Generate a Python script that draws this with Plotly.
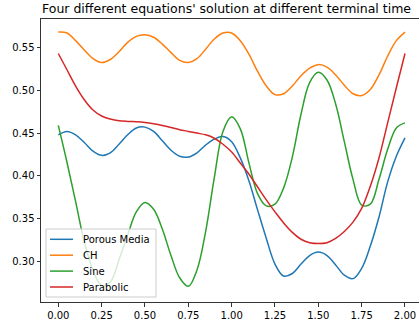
import plotly.graph_objects as go

x_vals = [0.00, 0.05, 0.10, 0.15, 0.20, 0.25, 0.30, 0.35, 0.40, 0.45,
          0.50, 0.55, 0.60, 0.65, 0.70, 0.75, 0.80, 0.85, 0.90, 0.95,
          1.00, 1.05, 1.10, 1.15, 1.20, 1.25, 1.30, 1.35, 1.40, 1.45,
          1.50, 1.55, 1.60, 1.65, 1.70, 1.75, 1.80, 1.85, 1.90, 1.95, 2.00]

porous_media = [0.448, 0.452, 0.448, 0.439, 0.429, 0.424, 0.427, 0.437, 0.448, 0.456,
                0.457, 0.452, 0.441, 0.430, 0.423, 0.422, 0.427, 0.436, 0.443, 0.446,
                0.440, 0.421, 0.394, 0.360, 0.327, 0.297, 0.283, 0.286, 0.297, 0.307,
                0.311, 0.307, 0.296, 0.284, 0.280, 0.292, 0.318, 0.352, 0.393, 0.423, 0.4445]

ch = [0.568, 0.567, 0.558, 0.547, 0.537, 0.5325, 0.536, 0.545, 0.556, 0.563,
      0.565, 0.562, 0.554, 0.544, 0.535, 0.5325, 0.537, 0.548, 0.560, 0.567,
      0.567, 0.558, 0.542, 0.522, 0.505, 0.495, 0.496, 0.505, 0.517, 0.526,
      0.530, 0.527, 0.518, 0.506, 0.496, 0.494, 0.501, 0.518, 0.540, 0.558, 0.568]

sine = [0.459, 0.416, 0.370, 0.323, 0.290, 0.272, 0.276, 0.302, 0.331, 0.358,
        0.369, 0.361, 0.338, 0.307, 0.281, 0.271, 0.290, 0.335, 0.398, 0.452,
        0.469, 0.455, 0.415, 0.379, 0.365, 0.367, 0.386, 0.422, 0.472, 0.509,
        0.521, 0.512, 0.484, 0.440, 0.396, 0.366, 0.367, 0.396, 0.431, 0.456, 0.462]

parabolic = [0.543, 0.524, 0.505, 0.489, 0.477, 0.470, 0.4665, 0.4645, 0.4637, 0.4633,
             0.4625, 0.461, 0.459, 0.4565, 0.454, 0.452, 0.450, 0.448, 0.444, 0.437,
             0.428, 0.415, 0.402, 0.387, 0.372, 0.358, 0.345, 0.334, 0.326, 0.322,
             0.321, 0.322, 0.327, 0.335, 0.346, 0.362, 0.388, 0.421, 0.462, 0.503, 0.543]

series_names = ["Porous Media", "CH", "Sine", "Parabolic"]
series_values = [porous_media, ch, sine, parabolic]
colors = ["#1f77b4", "#ff7f0e", "#2ca02c", "#d62728"]

x_ticks = [0.00, 0.25, 0.50, 0.75, 1.00, 1.25, 1.50, 1.75, 2.00]
x_tick_labels = ["0.00", "0.25", "0.50", "0.75", "1.00", "1.25", "1.50", "1.75", "2.00"]
y_ticks = [0.30, 0.35, 0.40, 0.45, 0.50, 0.55]
y_tick_labels = ["0.30", "0.35", "0.40", "0.45", "0.50", "0.55"]

title_text = "Four different equations' solution at different terminal time"

fig = go.Figure()
for name, vals, col in zip(series_names, series_values, colors):
    fig.add_trace(go.Scatter(x=x_vals, y=vals, name=name, mode="lines", showlegend=False,
                             line=dict(color=col, width=1.5, shape="spline", smoothing=1.0)))

W, H = 419, 324
L, T, B = 41, 19, 22
PW, PH = W - L, H - T - B


def px_x(p):
    return (p - L) / PW


def px_y(p):
    return (T + PH - p) / PH


# matplotlib-style legend box (lower left)
shapes = [dict(type="rect", xref="paper", yref="paper", layer="above",
               x0=px_x(46), x1=px_x(156), y0=px_y(297), y1=px_y(229),
               fillcolor="rgba(255,255,255,0.8)", line=dict(color="#cccccc", width=1))]
annotations = []
row_y = [239.3, 255.2, 271.1, 287.0]
for name, col, ry in zip(series_names, colors, row_y):
    shapes.append(dict(type="line", xref="paper", yref="paper", layer="above",
                       x0=px_x(50), x1=px_x(73), y0=px_y(ry), y1=px_y(ry),
                       line=dict(color=col, width=1.5)))
    annotations.append(dict(xref="paper", yref="paper", x=px_x(80.5), y=px_y(ry),
                            xanchor="left", yanchor="middle", showarrow=False, text=name,
                            font=dict(size=10, family="DejaVu Sans", color="#000000")))

fig.update_layout(
    width=W, height=H,
    margin=dict(l=L, r=0, t=T, b=B, pad=0),
    paper_bgcolor="white", plot_bgcolor="white",
    font=dict(family="DejaVu Sans", size=10, color="#000000"),
    title=dict(text=title_text, font=dict(size=12.5, color="#000000", family="DejaVu Sans"),
               xref="container", x=42 / W, xanchor="left",
               yref="container", y=1 - 8.5 / H, yanchor="middle"),
    showlegend=False,
    shapes=shapes,
    annotations=annotations,
)
fig.update_xaxes(range=[-0.0998, 2.0808], tickvals=x_ticks, ticktext=x_tick_labels,
                 showgrid=False, zeroline=False, showline=True, linecolor="#333333",
                 linewidth=1, mirror=True, ticks="outside", ticklen=3.5, tickwidth=0.8,
                 tickcolor="#333333", tickfont=dict(size=10, color="#000000"))
fig.update_yaxes(range=[0.2527, 0.5833], tickvals=y_ticks, ticktext=y_tick_labels,
                 showgrid=False, zeroline=False, showline=True, linecolor="#333333",
                 linewidth=1, mirror=False, ticks="outside", ticklen=3.5, tickwidth=0.8,
                 tickcolor="#333333", tickfont=dict(size=10, color="#000000"))

fig.write_html("out.html")
